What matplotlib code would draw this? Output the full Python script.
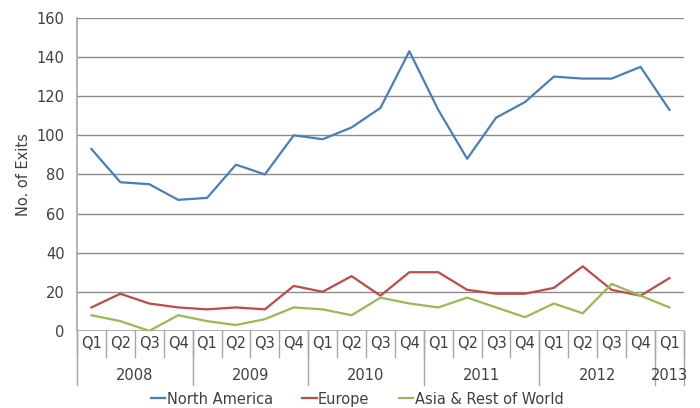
import matplotlib
matplotlib.use("Agg")
import matplotlib.pyplot as plt
import matplotlib.transforms as mtransforms

years = ["2008", "2009", "2010", "2011", "2012", "2013"]
quarters_per_year = [4, 4, 4, 4, 4, 1]
quarter_labels = ["Q1", "Q2", "Q3", "Q4"] * 5 + ["Q1"]

north_america = [93, 76, 75, 67, 68, 85, 80, 100, 98, 104, 114, 143,
                 113, 88, 109, 117, 130, 129, 129, 135, 113]
europe = [12, 19, 14, 12, 11, 12, 11, 23, 20, 28, 18, 30,
          30, 21, 19, 19, 22, 33, 21, 18, 27]
asia_row = [8, 5, 0, 8, 5, 3, 6, 12, 11, 8, 17, 14,
            12, 17, 12, 7, 14, 9, 24, 18, 12]

series_names = ["North America", "Europe", "Asia & Rest of World"]
colors = ["#4A7EBB", "#BE4B48", "#98B954"]
yticks = [0, 20, 40, 60, 80, 100, 120, 140, 160]

plt.rcParams['font.family'] = ['DejaVu Sans']
fs = 10.5
fig = plt.figure(figsize=(7.0, 4.08), dpi=100)
ax = fig.add_axes([0.11, 0.189, 0.867, 0.767])

n = len(quarter_labels)
x = list(range(n))
for vals, name, c in zip([north_america, europe, asia_row], series_names, colors):
    ax.plot(x, vals, color=c, lw=1.6, label=name, solid_joinstyle='round')

ax.set_xlim(-0.5, n - 0.5)
ax.set_ylim(0, 160)
ax.set_yticks(yticks)
ax.set_yticklabels([str(v) for v in yticks], fontsize=fs, color="#404040")
ax.tick_params(axis='y', length=0, pad=9)
ax.set_xticks([])
for s in ['top', 'right', 'bottom']:
    ax.spines[s].set_visible(False)
ax.spines['left'].set_color("#a6a6a6")
ax.spines['left'].set_linewidth(1.2)
ax.yaxis.grid(True, color="#8c8c8c", lw=1)
ax.set_axisbelow(True)
ax.axhline(0, color="#a6a6a6", lw=1.2, zorder=1)
ax.set_ylabel("No. of Exits", fontsize=fs, color="#404040", labelpad=4)

trans = mtransforms.blended_transform_factory(ax.transData, ax.transAxes)
q_bot = -0.083
y_bot = -0.1725
sep = "#a6a6a6"
for i in range(n + 1):
    ax.plot([i - 0.5, i - 0.5], [0, q_bot], transform=trans, color=sep, lw=1, clip_on=False)
for i, lab in enumerate(quarter_labels):
    ax.text(i, -0.0415, lab, transform=trans, ha='center', va='center',
            fontsize=fs, color="#404040")
start = 0
bounds = [0]
for yr, cnt in zip(years, quarters_per_year):
    center = start + (cnt - 1) / 2
    ax.text(center, -0.144, yr, transform=trans, ha='center', va='center',
            fontsize=fs, color="#404040")
    start += cnt
    bounds.append(start)
for b in bounds:
    ax.plot([b - 0.5, b - 0.5], [0, y_bot], transform=trans, color=sep, lw=1, clip_on=False)

leg = fig.legend(loc='center', bbox_to_anchor=(0.51, 0.022), ncol=3, frameon=False,
                 fontsize=fs, handlelength=1.0, handletextpad=0.1, columnspacing=2.0)
for t in leg.get_texts():
    t.set_color("#404040")

fig.savefig("out.png", dpi=100)
